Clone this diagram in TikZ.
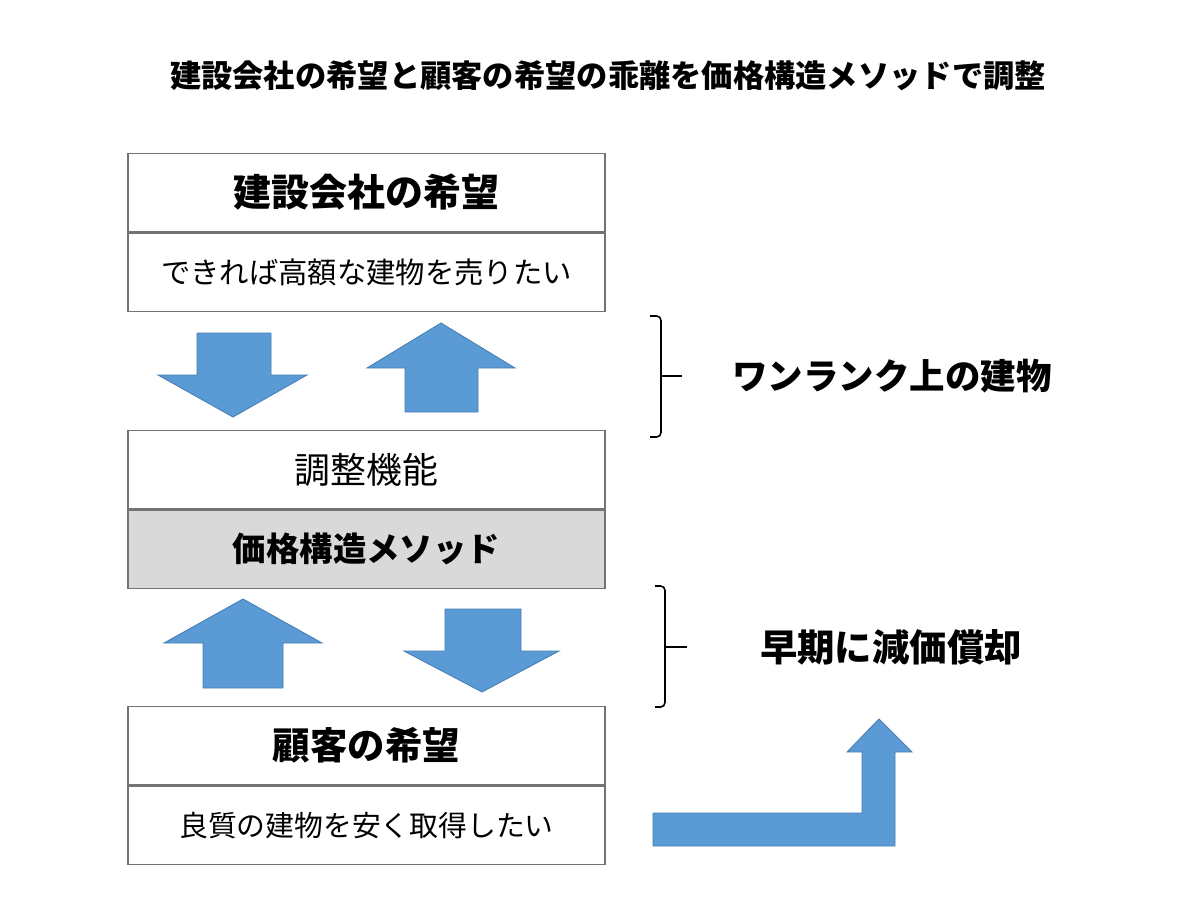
\documentclass[tikz,border=0pt]{standalone}
\usepackage{fontspec}
\setmainfont{Noto Sans CJK JP}
\usetikzlibrary{positioning}

\definecolor{arrowblue}{RGB}{91,155,213}
\definecolor{arrowedge}{RGB}{72,126,178}
\definecolor{boxgray}{RGB}{217,217,217}

\tikzset{
  box/.style={draw=black!55, line width=0.8pt, minimum width=9.54cm,
    minimum height=1.57cm, inner sep=0pt},
  blockarrow/.style={fill=arrowblue, draw=arrowedge, line width=0.5pt},
  brace/.style={line width=0.9pt, rounded corners=2.5pt},
}

\begin{document}
\begin{tikzpicture}[x=0.02cm, y=-0.02cm]
\useasboundingbox (0,0) rectangle (1200,923);

\node (title) at (608,76) {\fontsize{17.8pt}{20pt}\selectfont\bfseries
  建設会社の希望と顧客の希望の乖離を価格構造メソッドで調整};

% 建設会社
\node[box] (kaisha) at (366.5,192.5)
  {\fontsize{21.6pt}{24pt}\selectfont\bfseries 建設会社の希望};
\node[box, below=0pt of kaisha] (kaishaW)
  {\fontsize{16.7pt}{19pt}\selectfont できれば高額な建物を売りたい};

% 調整機能
\node[box] (chosei) at (366.5,469.5)
  {\fontsize{20.4pt}{23pt}\selectfont 調整機能};
\node[box, fill=boxgray, below=0pt of chosei] (method)
  {\fontsize{19pt}{22pt}\selectfont\bfseries 価格構造メソッド};

% 顧客
\node[box] (kokyaku) at (366.5,745.5)
  {\fontsize{21.3pt}{24pt}\selectfont\bfseries 顧客の希望};
\node[box, below=0pt of kokyaku] (kokyakuW)
  {\fontsize{16.4pt}{19pt}\selectfont 良質の建物を安く取得したい};

% block arrows
\draw[blockarrow] (197,333) -- (271,333) -- (271,375) -- (307,375)
  -- (233,417) -- (158,375) -- (197,375) -- cycle;
\draw[blockarrow] (405,412) -- (405,368) -- (367,368) -- (441,323)
  -- (515,368) -- (478,368) -- (478,412) -- cycle;
\draw[blockarrow] (203,688) -- (203,643) -- (164,643) -- (243,599)
  -- (322,643) -- (283,643) -- (283,688) -- cycle;
\draw[blockarrow] (445,609) -- (521,609) -- (521,651) -- (559,651)
  -- (482,692) -- (404,651) -- (445,651) -- cycle;
\draw[blockarrow] (653,813) -- (862,813) -- (862,752) -- (847,752)
  -- (879,719) -- (912,752) -- (895,752) -- (895,846) -- (653,846) -- cycle;

% braces
\draw[brace] (650,316) -- (661,316) -- (661,437) -- (650,437);
\draw[brace] (661,376) -- (682,376);
\draw[brace] (655,586) -- (665,586) -- (665,707) -- (655,707);
\draw[brace] (665,647) -- (687,647);

\node (rank) at (892,376) {\fontsize{20.2pt}{23pt}\selectfont\bfseries ワンランク上の建物};
\node (genka) at (891,647) {\fontsize{21.3pt}{24pt}\selectfont\bfseries 早期に減価償却};
\end{tikzpicture}
\end{document}
